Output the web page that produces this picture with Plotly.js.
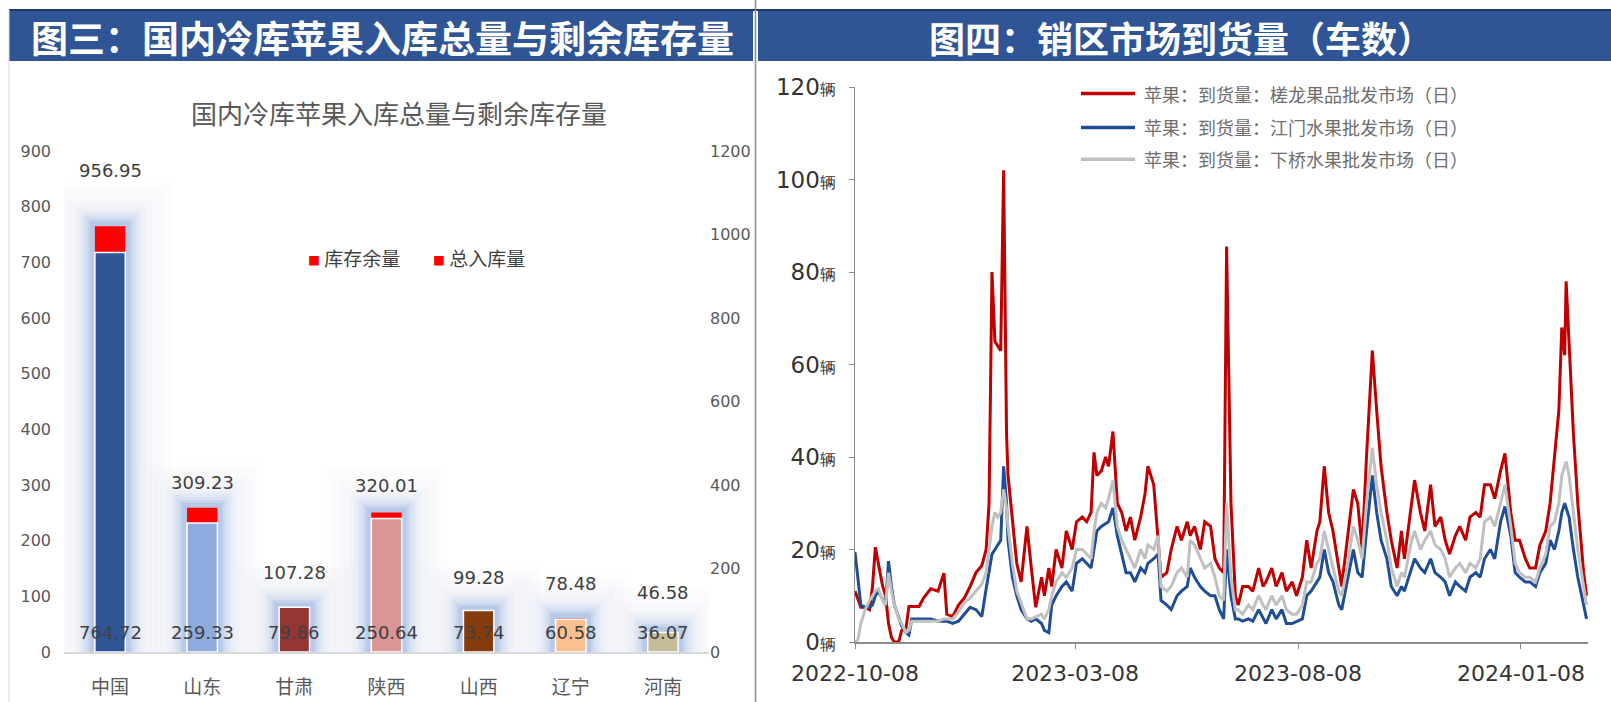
<!DOCTYPE html>
<html>
<head>
<meta charset="utf-8">
<script src="https://cdn.plot.ly/plotly-3.0.1.min.js"></script>
<style>
  html, body { margin: 0; padding: 0; background: #ffffff; }
  #chart { width: 1611px; height: 702px; }
</style>
</head>
<body>
<div id="chart"></div>
<script>
// ---------------- Left chart data ----------------
const categories = ['中国', '山东', '甘肃', '陕西', '山西', '辽宁', '河南'];
const totalIn    = [956.95, 309.23, 107.28, 320.01, 99.28, 78.48, 46.58];   // 总入库量 (right axis)
const remaining  = [764.72, 259.33, 79.86, 250.64, 73.74, 60.58, 36.07];    // 库存余量 (left axis)
const leftTicks  = [0, 100, 200, 300, 400, 500, 600, 700, 800, 900];
const rightTicks = [0, 200, 400, 600, 800, 1000, 1200];

// ---------------- Right chart data ----------------
const startDate = '2022-10-08';
const dayOffsets = [0,2,4,7,10,12,14,16,19,21,23,25,27,30,32,35,37,39,44,47,52,57,61,63,67,71,75,79,83,87,90,92,94,96,98,100,102,104,105,108,111,114,118,121,124,128,130,133,135,138,142,145,149,152,156,159,162,164,166,169,172,174,177,180,183,186,189,192,196,199,201,205,208,210,214,217,221,224,228,230,233,237,240,244,247,250,253,255,258,261,263,266,270,273,277,280,282,286,289,293,296,300,303,307,310,313,317,319,322,325,328,332,334,337,342,345,348,351,355,358,361,365,368,372,375,377,382,384,388,391,395,398,402,405,408,412,415,419,422,426,429,432,436,439,443,446,450,453,456,460,463,467,470,474,477,480,483,485,487,488,490,493,496,500,502];
const chalong = [11,9,7.5,7.5,7,12,20.5,17,12,10,4,1,0,0,2.5,3,7.7,7.7,7.7,9.5,11.5,11,14.9,6,5.5,8,9.5,12,15,16.5,20,30,80,65,64,63,102,45,36,26,17,13,25,16,7.5,14,10,16,12,20,16,24,20,26,27,26,28,41,36,37,40,38,45.5,30,28,24,27,22,27,32,38,34,22,14,15,20,25,22,26,23,25,20,26,25,18,16,15,85.5,30,10,8,12,12,11,16,12,13,16,12,15,11,13,10,14,22,16,24,26,38,28,24,16,12,20,33,30,20,40,63,50,38,28,22,16,24,18,30,35,28,24,34,25,27,22,19,23,25,22,27,28,27,34,34,31,37,40.8,28,22,22,18,16,16,21,24,30,40,50,68,62,78,65,45,30,15,10];
const jiangmen = [19.5,14,8,7.5,7.5,8,10,11,9,8,17.5,12,8,5,3.5,2,1.5,5,5,5,5,4.5,4.5,4.5,4,4.5,6,7.5,7,5.5,11.5,15,19,20,21,22,38,30,22,14,10,7,5,4.5,5,4,2.5,2,8,10,12,13,11,17,18,17,16,20,24,25,25.5,26,29,23,19,15,15,13,16,15,17,18,19,9,8,7,10,11,12,16,14,12,11,10,10,7,5,20,10,5,5,4.5,5,4.5,7,5,4,7,5,7,4,4,4.5,5,10,11,13,14,20,15,13,8,7,12,20,15,14,24,36,28,22,18,12,10,12,11,16,18,16,15,18,15,14,13,10,13,12,11,14,15,14,18,20,18,26,29.3,23,15,14,13,13,12,15,17,22,20,24,28,30,29,27,20,14,8,5];
const xiaqiao = [0,0.5,4,7,9,10,11,11.5,9,8,15,11,8,5,4,2,2.5,4.5,4.5,4.5,4.5,4.5,5,5,5,6.5,8.5,9.5,11,12.5,15,20,25,28,27,28,33,29,25,17,11,8.5,5,5,5.5,6,5,7,10,13,15,14,16,20,20,19,18,24,28,30,29,31,35,25,22,20,18,16,20,18,21,20,23,12,11,12,15,16,14,22,21,18,16,17,14,10,9,30,14,7,7,6,8,7,10,8,7,10,8,10,7,6,6,8,13,13,17,18,24,20,16,11,10,15,25,22,18,30,42,34,28,22,16,12,15,14,22,24,20,22,24,21,20,18,14,16,17,15,17,16,18,26,27,25,30,34,25,17,15,14,14,13,16,19,25,26,30,36,38,39,36,28,20,12,8];
const seriesNames = ['苹果：到货量：槎龙果品批发市场（日）', '苹果：到货量：江门水果批发市场（日）', '苹果：到货量：下桥水果批发市场（日）'];
const dateTicks = ['2022-10-08', '2023-03-08', '2023-08-08', '2024-01-08'];
const yTicks3 = [0, 20, 40, 60, 80, 100, 120];
const yUnit3 = '辆';

// ---------------- styles ----------------
const W = 1611, H = 702;
const px = x => x / W;
const py = y => 1 - y / H;
const barColors = ['#2F5597', '#8FAADC', '#943634', '#D99694', '#843C0C', '#FAC090', '#C4BD97'];
const lineColors = ['#C00000', '#1F4E96', '#C0C0C0'];
const labelShift = [82, 40, 35, 33, 33, 36, 40];
const barW = 0.33;
const CJK = '"Noto Sans CJK SC", "Noto Sans", sans-serif';
const NUM = '"DejaVu Sans", "Liberation Sans", sans-serif';

const toDate = d => {
  const [y, m, dd] = startDate.split('-').map(Number);
  return new Date(Date.UTC(y, m - 1, dd) + d * 86400000).toISOString().slice(0, 10);
};
const dates = dayOffsets.map(toDate);

// ---------------- traces ----------------
const traces = [];
// soft glow layers around each column (widest first)
const glow = [[90, 'rgba(205,210,222,0.035)'], [78, 'rgba(205,210,222,0.04)'], [66, 'rgba(205,210,222,0.045)'],
              [54, 'rgba(200,208,222,0.05)'], [42, 'rgba(180,196,226,0.07)'], [34, 'rgba(165,187,228,0.09)'],
              [27, 'rgba(160,185,228,0.12)'], [21, 'rgba(160,185,228,0.16)'], [15, 'rgba(155,182,227,0.24)'],
              [10, 'rgba(150,178,225,0.35)']];
glow.forEach(([lw, c]) => {
  traces.push({
    type: 'bar', x: categories, y: remaining, xaxis: 'x', yaxis: 'y', width: barW,
    marker: { color: 'rgba(0,0,0,0)', line: { color: c, width: lw } },
    hoverinfo: 'skip', showlegend: false
  });
});
traces.push({
  type: 'bar', name: '库存余量', x: categories, y: remaining, xaxis: 'x', yaxis: 'y', width: barW,
  marker: { color: '#FF0000', line: { width: 0 } }, showlegend: false
});
traces.push({
  type: 'bar', name: '总入库量', x: categories, y: totalIn, xaxis: 'x', yaxis: 'y2', width: barW,
  marker: { color: barColors, line: { color: '#FFFFFF', width: 1.5 } }, showlegend: false
});

[chalong, jiangmen, xiaqiao].forEach((vals, i) => {
  traces.push({
    type: 'scatter', mode: 'lines', name: seriesNames[i], x: dates, y: vals,
    xaxis: 'x3', yaxis: 'y3', line: { color: lineColors[i], width: 3 }, showlegend: false
  });
});

// ---------------- annotations ----------------
const annotations = [];
const paperNote = (x, y, text, font, xanchor) => ({
  x: px(x), y: py(y), xref: 'paper', yref: 'paper', xanchor: xanchor || 'center', yanchor: 'middle',
  text: text, showarrow: false, font: font
});
categories.forEach((c, i) => {
  annotations.push({ x: c, y: totalIn[i], xref: 'x', yref: 'y2', text: totalIn[i].toFixed(2),
    xanchor: 'center', yanchor: 'middle',
    yshift: labelShift[i], showarrow: false, font: { family: NUM, size: 18, color: '#404040' } });
  annotations.push({ x: c, y: 0, xref: 'x', yref: 'y', text: remaining[i].toFixed(2),
    xanchor: 'center', yanchor: 'middle',
    yshift: 20, showarrow: false, font: { family: NUM, size: 18, color: '#404040' } });
});
annotations.push(paperNote(399, 113, '国内冷库苹果入库总量与剩余库存量', { family: CJK, size: 26, color: '#595959' }));
annotations.push(paperNote(306, 257, '<span style="color:#FF0000;font-size:12px">■</span> 库存余量', { family: CJK, size: 19, color: '#404040' }, 'left'));
annotations.push(paperNote(431, 257, '<span style="color:#FF0000;font-size:12px">■</span> 总入库量', { family: CJK, size: 19, color: '#404040' }, 'left'));
annotations.push(paperNote(382, 37, '<b>图三：国内冷库苹果入库总量与剩余库存量</b>', { family: CJK, size: 37, color: '#FFFFFF' }));
annotations.push(paperNote(1181, 37, '<b>图四：销区市场到货量（车数）</b>', { family: CJK, size: 36, color: '#FFFFFF' }));

const legY = [93.5, 127.4, 159.2];
const shapes = [
  { type: 'rect', layer: 'below', xref: 'paper', yref: 'paper', x0: px(9), x1: px(753), y0: py(61), y1: py(11),
    fillcolor: '#2F5597', line: { width: 0 } },
  { type: 'rect', layer: 'below', xref: 'paper', yref: 'paper', x0: px(758), x1: px(1611), y0: py(61), y1: py(11),
    fillcolor: '#2F5597', line: { width: 0 } },
  { type: 'line', xref: 'paper', yref: 'paper', x0: px(9), x1: px(1611), y0: py(10), y1: py(10),
    line: { color: '#1F3864', width: 2 } },
  { type: 'line', xref: 'paper', yref: 'paper', x0: px(755.5), x1: px(755.5), y0: 0, y1: 1,
    line: { color: '#8C8C8C', width: 1.5 } },
  { type: 'line', xref: 'paper', yref: 'paper', x0: px(9), x1: px(9), y0: 0, y1: py(10),
    line: { color: '#D9D9D9', width: 1 } }
];
seriesNames.forEach((n, i) => {
  shapes.push({ type: 'line', xref: 'paper', yref: 'paper', x0: px(1081), x1: px(1135), y0: py(legY[i]), y1: py(legY[i]),
    line: { color: lineColors[i], width: 3.5 } });
  annotations.push(paperNote(1142, legY[i], n, { family: CJK, size: 18, color: '#6E6E6E' }, 'left'));
});

// ---------------- layout ----------------
const layout = {
  width: W, height: H,
  margin: { l: 0, r: 0, t: 0, b: 0 },
  paper_bgcolor: '#FFFFFF', plot_bgcolor: 'rgba(0,0,0,0)',
  barmode: 'overlay', showlegend: false,
  xaxis: {
    type: 'category', domain: [px(64), px(709)], anchor: 'y',
    showline: true, linecolor: '#D9D9D9', linewidth: 1.5, ticks: '', showgrid: false, zeroline: false,
    tickfont: { family: CJK, size: 19, color: '#595959' }, ticklabelstandoff: 18, fixedrange: true
  },
  yaxis: {
    domain: [py(652), py(151)], anchor: 'x', range: [0, 900], tickvals: leftTicks,
    showgrid: false, zeroline: false, showline: false, ticks: '',
    tickfont: { family: NUM, size: 16, color: '#595959' }, ticklabelstandoff: 12, fixedrange: true
  },
  yaxis2: {
    overlaying: 'y', side: 'right', anchor: 'x', range: [0, 1200], tickvals: rightTicks,
    showgrid: false, zeroline: false, showline: false, ticks: '',
    tickfont: { family: NUM, size: 16, color: '#595959' }, ticklabelstandoff: 0, fixedrange: true
  },
  xaxis3: {
    type: 'date', domain: [px(855), px(1588)], anchor: 'y3', range: ['2022-10-08', '2024-02-23'],
    tickvals: dateTicks, tickformat: '%Y-%m-%d', showgrid: false, zeroline: false,
    showline: true, linecolor: '#8C8C8C', linewidth: 1.5, ticks: 'outside', ticklen: 5, tickcolor: '#8C8C8C',
    tickfont: { family: NUM, size: 22, color: '#333333' }, ticklabelstandoff: 6, fixedrange: true
  },
  yaxis3: {
    domain: [py(642), py(87)], anchor: 'x3', range: [0, 120], tickvals: yTicks3,
    ticktext: yTicks3.map(v => v + '<span style="font-size:16px">' + yUnit3 + '</span>'),
    showgrid: false, zeroline: false, showline: true, linecolor: '#8C8C8C', linewidth: 1.5,
    ticks: 'outside', ticklen: 5, tickcolor: '#8C8C8C',
    tickfont: { family: NUM, size: 23, color: '#333333' }, ticklabelstandoff: 8, fixedrange: true
  },
  annotations: annotations,
  shapes: shapes
};

Plotly.newPlot('chart', traces, layout, { displayModeBar: false, staticPlot: true });
</script>
</body>
</html>
